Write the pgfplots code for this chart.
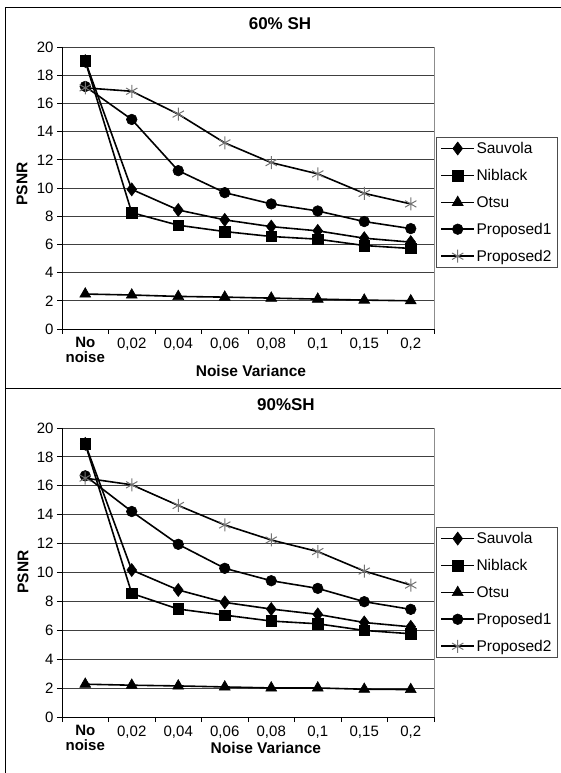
\documentclass[border=0pt]{standalone}
\usepackage{pgfplots}
\pgfplotsset{compat=1.18}
\usepackage{fontspec}
\setmainfont{Liberation Sans}

\pgfplotsset{
 mychart/.style={
  width=372pt, scale only axis, clip=false,
  xmin=-0.5, xmax=7.5, ymin=0, ymax=20,
  ytick={0,2,...,20}, xtick={0,...,7},
  xticklabels={{\bfseries No\\\bfseries noise},{0,02},{0,04},{0,06},{0,08},{0,1},{0,15},{0,2}},
  minor xtick={-0.5,0.5,...,7.5},
  major x tick style={draw=none},
  tick align=outside, major tick length=5pt, minor tick length=5pt,
  xtick pos=left, ytick pos=left,
  ymajorgrids, grid style={draw=black!75, line width=0.8pt},
  axis line style={draw=none},
  tick style={black, line width=0.8pt},
  tick label style={font=\fontsize{15}{15}\selectfont},
  /pgf/number format/assume math mode=true,
  xticklabel style={align=center, anchor=north},
  ylabel={PSNR}, xlabel={Noise Variance},
  label style={font=\fontsize{15.5}{18}\selectfont\bfseries},
  title style={font=\fontsize{17}{20}\selectfont\bfseries, anchor=base},
  legend cell align=left,
  legend style={draw=black!70, line width=0.8pt, fill=white, anchor=west,
    font=\fontsize{15.5}{17}\selectfont, row sep=11.3pt, inner xsep=4pt, inner ysep=3.5pt,
    nodes={inner sep=1.5pt}},
  legend image code/.code={\draw[mark repeat=2,mark phase=2,#1] plot coordinates {(0pt,0pt) (16.5pt,0pt) (33pt,0pt)};},
  every axis plot/.append style={black, line width=1.6pt, mark options={solid, fill=black, line width=0.6pt}},
 },
 sauv/.style={mark=diamond*, mark size=6.5pt},
 nib/.style={mark=square*, mark size=5.3pt},
 ots/.style={mark=triangle*, mark size=6.3pt},
 pro1/.style={mark=*, mark size=5.3pt},
 pro2/.style={mark=asterisk, mark size=6.5pt, mark options={draw=black!55, fill=none, line width=1pt}},
}

\begin{document}
\begin{tikzpicture}[x=1pt,y=1pt]
\path[use as bounding box] (0,0) rectangle (561,773);
\draw[line width=1pt] (5,0) -- (5,765.5) -- (561,765.5);
\draw[line width=1pt] (5,384) -- (561,384);

% ---------- top chart: 60% SH ----------
\begin{axis}[mychart, at={(62pt,444pt)}, anchor=south west, height=282pt,
  title={60\% SH}, title style={at={(rel axis cs:0.586,1)}, yshift=11pt},
  ylabel style={at={(axis description cs:-0.1075,0.514)}, anchor=center},
  xlabel style={at={(axis description cs:0.508,-0.168)}, anchor=base},
  legend style={at={(axis description cs:1.0054,0.449)}}]
\addplot[sauv] coordinates {(0,19.0) (1,9.9) (2,8.44) (3,7.74) (4,7.26) (5,6.96) (6,6.44) (7,6.16)};
\addplot[nib] coordinates {(0,19.0) (1,8.25) (2,7.36) (3,6.91) (4,6.56) (5,6.37) (6,5.92) (7,5.71)};
\addplot[ots] coordinates {(0,2.48) (1,2.41) (2,2.31) (3,2.26) (4,2.19) (5,2.12) (6,2.05) (7,2.0)};
\addplot[pro1] coordinates {(0,17.2) (1,14.86) (2,11.23) (3,9.67) (4,8.87) (5,8.37) (6,7.62) (7,7.12)};
\addplot[pro2] coordinates {(0,17.1) (1,16.86) (2,15.24) (3,13.2) (4,11.8) (5,11.0) (6,9.62) (7,8.87)};
\legend{Sauvola,Niblack,Otsu,Proposed1,Proposed2}
\draw[black, line width=0.8pt] (rel axis cs:0,1) -- (rel axis cs:0,0) -- (rel axis cs:1,0);
\draw[black!45, line width=0.8pt] (rel axis cs:1,0) -- (rel axis cs:1,1);
\end{axis}

% ---------- bottom chart: 90%SH ----------
\begin{axis}[mychart, at={(62pt,56pt)}, anchor=south west, height=289pt,
  title={90\%SH}, title style={at={(rel axis cs:0.602,1)}, yshift=11pt},
  ylabel style={at={(axis description cs:-0.105,0.502)}, anchor=center},
  xlabel style={at={(axis description cs:0.548,-0.126)}, anchor=base},
  legend style={at={(axis description cs:1.0054,0.431)}}]
\addplot[sauv] coordinates {(0,18.9) (1,10.17) (2,8.79) (3,7.93) (4,7.47) (5,7.1) (6,6.54) (7,6.24)};
\addplot[nib] coordinates {(0,18.9) (1,8.55) (2,7.47) (3,7.05) (4,6.64) (5,6.45) (6,5.99) (7,5.76)};
\addplot[ots] coordinates {(0,2.27) (1,2.2) (2,2.15) (3,2.08) (4,2.01) (5,2.01) (6,1.92) (7,1.9)};
\addplot[pro1] coordinates {(0,16.69) (1,14.22) (2,11.95) (3,10.29) (4,9.43) (5,8.9) (6,7.98) (7,7.45)};
\addplot[pro2] coordinates {(0,16.53) (1,16.07) (2,14.64) (3,13.29) (4,12.25) (5,11.45) (6,10.1) (7,9.13)};
\legend{Sauvola,Niblack,Otsu,Proposed1,Proposed2}
\draw[black, line width=0.8pt] (rel axis cs:0,1) -- (rel axis cs:0,0) -- (rel axis cs:1,0);
\draw[black!45, line width=0.8pt] (rel axis cs:1,0) -- (rel axis cs:1,1);
\end{axis}
\end{tikzpicture}
\end{document}
